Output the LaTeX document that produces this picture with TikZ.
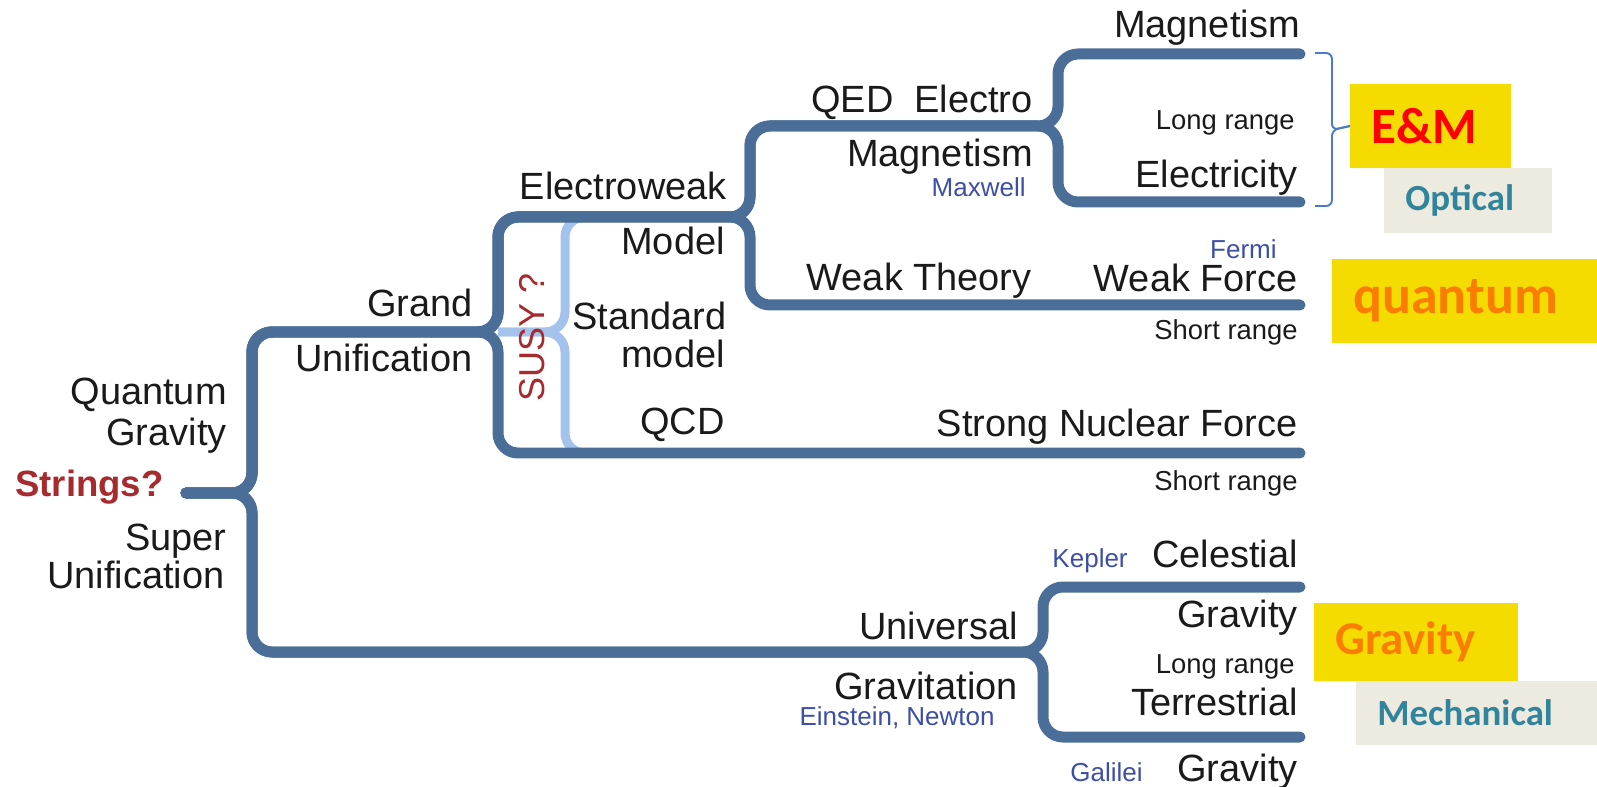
\documentclass[tikz,border=0pt]{standalone}
\usepackage{fontspec}
\setmainfont{Liberation Sans}
\newfontfamily\tagfont{Carlito}
\usepackage{tikz}
\usetikzlibrary{positioning}

\definecolor{trunk}{HTML}{4A6E97}
\definecolor{susylight}{HTML}{A4C3EC}
\definecolor{ink}{HTML}{1A1A1A}
\definecolor{sci}{HTML}{3C4EA6}
\definecolor{wine}{HTML}{A62B2F}
\definecolor{braceblue}{HTML}{4A7BC4}
\definecolor{hiyellow}{HTML}{F4DC00}
\definecolor{paper}{HTML}{EDEAE0}
\definecolor{tealtext}{HTML}{31849B}
\definecolor{orangetext}{HTML}{FA7D00}

\begin{document}
\begin{tikzpicture}[
    x=0.02cm, y=-0.02cm,
    branch/.style={draw=trunk, line width=0.22cm, line cap=round, rounded corners=0.4cm},
    susy/.style={draw=susylight, line width=0.18cm, rounded corners=0.4cm},
    bracket/.style={draw=braceblue, line width=1.1pt, rounded corners=0.12cm},
    lbl/.style={anchor=base east, inner sep=0pt, text=ink, font=\fontsize{21.6}{24}\selectfont},
    note/.style={lbl, font=\fontsize{15.6}{18}\selectfont},
    who/.style={lbl, text=sci, font=\fontsize{14.8}{17}\selectfont},
    tagbox/.style={anchor=west, align=left, inner xsep=0.42cm, inner ysep=0pt,
      font=\tagfont\bfseries\fontsize{#1}{#1}\selectfont}]
    \useasboundingbox (0,0) rectangle (1597,787);

    % junctions and line ends
    \coordinate (root)   at (186,493);
    \coordinate (qg)     at (252,493);
    \coordinate (gu)     at (498,332);
    \coordinate (ew)     at (750,217);
    \coordinate (qed)    at (1058,126);
    \coordinate (uni)    at (1043,652);
    \coordinate (mag)    at (1300,54);
    \coordinate (elec)   at (1300,202);
    \coordinate (weak)   at (1300,305);
    \coordinate (strong) at (1300,453);
    \coordinate (cel)    at (1300,587);
    \coordinate (terr)   at (1300,737);
    \coordinate (susymid) at (565,332);
    \coordinate (susytop) at (620,217);
    \coordinate (susybot) at (620,453);

    % SUSY bar
    \draw[susy] (gu) -- (susymid) |- (susytop);
    \draw[susy] (gu) -- (susymid) |- (susybot);

    % the tree
    \draw[branch] (root) -- (qg) |- (gu) |- (ew) |- (qed) |- (mag);
    \draw[branch] (root) -- (qg) |- (gu) |- (ew) |- (qed) |- (elec);
    \draw[branch] (root) -- (qg) |- (gu) |- (ew) |- (weak);
    \draw[branch] (root) -- (qg) |- (gu) |- (strong);
    \draw[branch] (root) -- (qg) |- (uni) |- (cel);
    \draw[branch] (root) -- (qg) |- (uni) |- (terr);

    % labels
    \node[anchor=base west, inner sep=0pt, text=wine, font=\bfseries\fontsize{20.8}{23}\selectfont] (strings) at (15,497) {Strings?};
    \node[lbl] (quantum) at (227,405) {Quantum};
    \node[lbl] (qgrav)   at (227,445) {Gravity};
    \node[lbl] (super)   at (227,550) {Super};
    \node[lbl] (superu)  at (225,588) {Unification};
    \node[lbl] (grand)   at (473,317) {Grand};
    \node[lbl] (grandu)  at (473,372) {Unification};
    \node[rotate=90, inner sep=0pt, text=wine, font=\fontsize{20.5}{22}\selectfont] (susytxt) at (532,337) {SUSY ?};
    \node[lbl] (ewk)     at (727,200) {Electroweak};
    \node[lbl] (model)   at (725,255) {Model};
    \node[lbl] (std)     at (727,330) {Standard};
    \node[lbl] (stdm)    at (725,368) {model};
    \node[lbl] (qcd)     at (725,435) {QCD};
    \node[lbl] (qedl)    at (1033,113) {QED\ \ Electro};
    \node[lbl] (magn)    at (1033,167) {Magnetism};
    \node[who] (maxwell) at (1026,197) {Maxwell};
    \node[lbl] (wtheory) at (1032,291) {Weak Theory};
    \node[lbl] (magl)    at (1300,38) {Magnetism};
    \node[note] (lr1)    at (1295,130) {Long range};
    \node[lbl] (elecl)   at (1298,188) {Electricity};
    \node[who] (fermi)   at (1277,259) {Fermi};
    \node[lbl] (weakl)   at (1298,292) {Weak Force};
    \node[note] (sr1)    at (1298,340) {Short range};
    \node[lbl] (strongl) at (1298,437) {Strong Nuclear Force};
    \node[note] (sr2)    at (1298,490) {Short range};
    \node[lbl] (univ)    at (1018,639) {Universal};
    \node[lbl] (gravit)  at (1018,699) {Gravitation};
    \node[who] (einst)   at (995,725) {Einstein, Newton};
    \node[who] (kepler)  at (1128,567) {Kepler};
    \node[lbl] (celes)   at (1298,567) {Celestial};
    \node[lbl] (celg)    at (1298,627) {Gravity};
    \node[note] (lr2)    at (1295,673) {Long range};
    \node[lbl] (terrl)   at (1298,715) {Terrestrial};
    \node[who] (galilei) at (1143,781) {Galilei};
    \node[lbl] (terrg)   at (1298,781) {Gravity};

    % tags
    \node[tagbox=29, fill=hiyellow, text=red, text width=2.38cm, minimum height=1.68cm] (em) at (1350,126) {E\&M};
    \node[tagbox=21, fill=paper, text=tealtext, text width=2.52cm, minimum height=1.3cm] (optical) at (1384,200.5) {Optical};
    \node[tagbox=30.7, fill=hiyellow, text=orangetext, text width=4.46cm, minimum height=1.68cm] (quant) at (1332,301) {quantum};
    \node[tagbox=26.7, fill=hiyellow, text=orangetext, text width=3.24cm, minimum height=1.56cm] (gravtag) at (1314,642) {Gravity};
    \node[tagbox=21, fill=paper, text=tealtext, text width=3.98cm, minimum height=1.28cm] (mech) at (1356,713) {Mechanical};

    % bracket to E&M
    \coordinate (brtop) at (1315,53);
    \coordinate (brbot) at (1315,206);
    \coordinate (brmid) at (1332,130);
    \draw[bracket] (brtop) -| (brmid) -- (em.west);
    \draw[bracket] (brbot) -| (brmid) -- (em.west);
  \end{tikzpicture}
\end{document}
